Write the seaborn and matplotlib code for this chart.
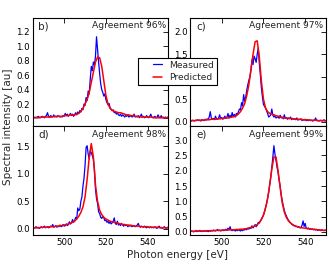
import numpy as np
import pandas as pd
import matplotlib
matplotlib.use("Agg")
import matplotlib.pyplot as plt
import seaborn as sns
from matplotlib.ticker import MultipleLocator
from matplotlib.lines import Line2D
from matplotlib.legend_handler import HandlerLine2D

# energy grids [eV]
energy_meas = np.arange(485.0, 550.01, 0.5)
energy_pred = np.arange(485.0, 550.01, 1.0)

# panel b)
b_meas = [0.01, 0.02, 0.01, 0.02, 0.01, 0.03, 0.02, 0.01, 0.02, 0.03,
          0.02, 0.01, 0.03, 0.04, 0.08, 0.03, 0.02, 0.04, 0.03, 0.02,
          0.05, 0.02, 0.03, 0.02, 0.04, 0.03, 0.02, 0.03, 0.02, 0.04,
          0.03, 0.07, 0.04, 0.06, 0.03, 0.05, 0.07, 0.04, 0.06, 0.03,
          0.05, 0.08, 0.05, 0.09, 0.07, 0.11, 0.09, 0.14, 0.12, 0.20,
          0.18, 0.29, 0.25, 0.38, 0.34, 0.55, 0.72, 0.66, 0.78, 0.74,
          0.86, 1.13, 0.95, 0.78, 0.62, 0.48, 0.40, 0.36, 0.31, 0.34,
          0.26, 0.22, 0.19, 0.21, 0.15, 0.13, 0.11, 0.12, 0.08, 0.09,
          0.06, 0.08, 0.05, 0.04, 0.06, 0.03, 0.05, 0.04, 0.02, 0.04,
          0.03, 0.05, 0.02, 0.03, 0.04, 0.02, 0.03, 0.06, 0.02, 0.03,
          0.02, 0.04, 0.01, 0.03, 0.06, 0.02, 0.03, 0.01, 0.02, 0.04,
          0.02, 0.01, 0.03, 0.06, 0.02, 0.01, 0.02, 0.03, 0.01, 0.02,
          0.05, 0.02, 0.01, 0.04, 0.01, 0.02, 0.01, 0.02, 0.01, 0.02,
          0.01]
b_pred = [0.01, 0.01, 0.01, 0.01, 0.02, 0.02, 0.02, 0.02, 0.02, 0.02,
          0.03, 0.03, 0.03, 0.03, 0.03, 0.04, 0.04, 0.04, 0.05, 0.05,
          0.05, 0.06, 0.07, 0.10, 0.14, 0.20, 0.26, 0.36, 0.50, 0.64,
          0.78, 0.85, 0.84, 0.72, 0.52, 0.32, 0.20, 0.14, 0.11, 0.10,
          0.09, 0.08, 0.08, 0.07, 0.06, 0.05, 0.05, 0.04, 0.04, 0.03,
          0.03, 0.03, 0.02, 0.02, 0.02, 0.02, 0.02, 0.02, 0.01, 0.01,
          0.01, 0.01, 0.01, 0.01, 0.01, 0.01]

# panel c)
c_meas = [0.02, 0.01, 0.03, 0.02, 0.01, 0.03, 0.02, 0.04, 0.02, 0.03,
          0.01, 0.04, 0.03, 0.02, 0.05, 0.03, 0.06, 0.04, 0.10, 0.22,
          0.08, 0.05, 0.07, 0.04, 0.12, 0.06, 0.05, 0.08, 0.15, 0.06,
          0.09, 0.05, 0.08, 0.12, 0.07, 0.10, 0.18, 0.08, 0.14, 0.09,
          0.20, 0.11, 0.16, 0.10, 0.18, 0.15, 0.22, 0.28, 0.26, 0.42,
          0.35, 0.60, 0.45, 0.55, 0.70, 0.82, 0.92, 1.00, 1.15, 1.38,
          1.27, 1.46, 1.40, 1.32, 1.50, 1.64, 1.30, 1.05, 0.75, 0.55,
          0.38, 0.34, 0.30, 0.24, 0.18, 0.10, 0.12, 0.15, 0.28, 0.14,
          0.10, 0.12, 0.08, 0.09, 0.11, 0.07, 0.14, 0.08, 0.10, 0.06,
          0.15, 0.07, 0.09, 0.05, 0.08, 0.06, 0.10, 0.04, 0.07, 0.05,
          0.06, 0.04, 0.08, 0.03, 0.05, 0.04, 0.06, 0.02, 0.04, 0.03,
          0.05, 0.02, 0.03, 0.02, 0.04, 0.02, 0.03, 0.01, 0.02, 0.03,
          0.08, 0.02, 0.03, 0.01, 0.02, 0.03, 0.01, 0.02, 0.04, 0.01,
          0.02]
c_pred = [0.02, 0.02, 0.02, 0.03, 0.03, 0.03, 0.03, 0.04, 0.04, 0.04,
          0.05, 0.05, 0.05, 0.06, 0.06, 0.07, 0.07, 0.08, 0.08, 0.09,
          0.10, 0.11, 0.13, 0.17, 0.22, 0.30, 0.40, 0.58, 0.82, 1.15,
          1.50, 1.78, 1.80, 1.45, 0.90, 0.50, 0.30, 0.22, 0.18, 0.16,
          0.15, 0.13, 0.12, 0.10, 0.09, 0.08, 0.08, 0.07, 0.07, 0.06,
          0.06, 0.05, 0.05, 0.05, 0.04, 0.04, 0.04, 0.03, 0.03, 0.03,
          0.03, 0.02, 0.02, 0.02, 0.02, 0.02]

# panel d)
d_meas = [0.03, 0.01, 0.02, 0.04, 0.02, 0.03, 0.01, 0.02, 0.04, 0.02,
          0.03, 0.05, 0.02, 0.03, 0.04, 0.02, 0.03, 0.05, 0.04, 0.08,
          0.03, 0.04, 0.06, 0.03, 0.05, 0.04, 0.07, 0.04, 0.05, 0.08,
          0.05, 0.06, 0.09, 0.06, 0.08, 0.13, 0.09, 0.11, 0.17, 0.12,
          0.15, 0.21, 0.18, 0.38, 0.33, 0.36, 0.50, 0.58, 0.78, 0.92,
          1.15, 1.48, 1.51, 1.36, 1.27, 1.42, 1.38, 1.33, 1.26, 1.08,
          0.72, 0.55, 0.46, 0.31, 0.28, 0.21, 0.19, 0.23, 0.20, 0.15,
          0.16, 0.12, 0.14, 0.10, 0.13, 0.09, 0.11, 0.14, 0.20, 0.10,
          0.08, 0.14, 0.07, 0.09, 0.06, 0.10, 0.07, 0.05, 0.08, 0.06,
          0.07, 0.04, 0.06, 0.05, 0.07, 0.04, 0.05, 0.06, 0.04, 0.05,
          0.07, 0.10, 0.05, 0.03, 0.05, 0.04, 0.03, 0.05, 0.03, 0.02,
          0.04, 0.03, 0.02, 0.04, 0.02, 0.03, 0.02, 0.04, 0.02, 0.01,
          0.03, 0.05, 0.02, 0.03, 0.01, 0.02, 0.04, 0.02, 0.01, 0.03,
          0.02]
d_pred = [0.02, 0.02, 0.02, 0.02, 0.03, 0.03, 0.03, 0.03, 0.04, 0.04,
          0.04, 0.05, 0.05, 0.06, 0.06, 0.07, 0.08, 0.09, 0.10, 0.12,
          0.14, 0.18, 0.23, 0.30, 0.40, 0.58, 0.90, 1.30, 1.55, 1.30,
          0.80, 0.50, 0.34, 0.26, 0.21, 0.18, 0.16, 0.14, 0.13, 0.12,
          0.11, 0.10, 0.09, 0.08, 0.08, 0.07, 0.07, 0.06, 0.06, 0.05,
          0.05, 0.05, 0.04, 0.04, 0.04, 0.04, 0.03, 0.03, 0.03, 0.03,
          0.03, 0.02, 0.02, 0.02, 0.02, 0.02]

# panel e)
e_meas = [0.01, 0.03, 0.02, 0.00, 0.02, 0.04, 0.01, 0.03, 0.02, 0.05,
          0.02, 0.01, 0.03, 0.02, 0.04, 0.02, 0.03, 0.01, 0.04, 0.02,
          0.05, 0.03, 0.06, 0.04, 0.03, 0.05, 0.08, 0.04, 0.06, 0.03,
          0.05, 0.07, 0.04, 0.06, 0.09, 0.05, 0.12, 0.08, 0.17, 0.06,
          0.04, 0.07, 0.05, 0.03, 0.06, 0.04, 0.07, 0.05, 0.03, 0.06,
          0.04, 0.08, 0.06, 0.10, 0.07, 0.12, 0.09, 0.14, 0.11, 0.20,
          0.13, 0.18, 0.24, 0.17, 0.22, 0.31, 0.29, 0.36, 0.42, 0.48,
          0.55, 0.66, 0.80, 0.92, 1.10, 1.28, 1.55, 1.78, 2.10, 2.45,
          2.82, 2.55, 2.35, 2.12, 1.95, 1.70, 1.50, 1.22, 1.02, 0.86,
          0.70, 0.60, 0.52, 0.44, 0.38, 0.33, 0.30, 0.25, 0.23, 0.20,
          0.21, 0.17, 0.18, 0.15, 0.16, 0.13, 0.14, 0.22, 0.36, 0.18,
          0.28, 0.12, 0.10, 0.13, 0.09, 0.11, 0.08, 0.10, 0.07, 0.09,
          0.06, 0.08, 0.05, 0.07, 0.06, 0.04, 0.07, 0.05, 0.04, 0.06,
          0.05]
e_pred = [0.02, 0.02, 0.02, 0.03, 0.03, 0.03, 0.03, 0.03, 0.04, 0.04,
          0.04, 0.04, 0.05, 0.05, 0.05, 0.05, 0.06, 0.06, 0.06, 0.07,
          0.07, 0.07, 0.08, 0.08, 0.09, 0.09, 0.10, 0.11, 0.13, 0.15,
          0.17, 0.20, 0.24, 0.30, 0.40, 0.55, 0.78, 1.10, 1.55, 2.05,
          2.45, 2.45, 2.00, 1.45, 0.95, 0.65, 0.47, 0.36, 0.29, 0.24,
          0.20, 0.18, 0.16, 0.14, 0.13, 0.12, 0.11, 0.10, 0.09, 0.08,
          0.08, 0.07, 0.06, 0.06, 0.05, 0.05]

panel_labels = ["b)", "c)", "d)", "e)"]
agreements = ["Agreement 96%", "Agreement 97%", "Agreement 98%", "Agreement 99%"]
y_limits = [(-0.11, 1.39), (-0.11, 2.31), (-0.11, 1.86), (-0.1, 3.45)]
y_steps = [0.2, 0.5, 0.5, 0.5]

sns.set_style("white")
plt.rcParams.update({
    "font.family": ["DejaVu Sans"],
    "xtick.direction": "in",
    "ytick.direction": "in",
    "xtick.top": True,
    "ytick.right": True,
    "xtick.major.size": 3.5,
    "ytick.major.size": 3.5,
    "xtick.major.width": 0.6,
    "ytick.major.width": 0.6,
    "xtick.labelsize": 6.2,
    "ytick.labelsize": 6.2,
    "axes.edgecolor": "black",
    "axes.linewidth": 0.8,
})

fig, axes = plt.subplots(2, 2, figsize=(3.29, 2.64), dpi=100, sharex=True)
fig.subplots_adjust(left=0.100, right=0.991, top=0.932, bottom=0.110,
                    wspace=0.162, hspace=0.0)

meas_all = [b_meas, c_meas, d_meas, e_meas]
pred_all = [b_pred, c_pred, d_pred, e_pred]

for i, ax in enumerate(axes.flat):
    df_m = pd.DataFrame({"energy": energy_meas, "intensity": meas_all[i]})
    df_p = pd.DataFrame({"energy": energy_pred, "intensity": pred_all[i]})
    sns.lineplot(data=df_m, x="energy", y="intensity", ax=ax,
                 color="#0000ff", linewidth=0.9)
    sns.lineplot(data=df_p, x="energy", y="intensity", ax=ax,
                 color="#ff0000", linewidth=1.1)
    ax.set_xlim(485, 550)
    ax.set_ylim(*y_limits[i])
    ax.set_xticks([500, 520, 540])
    ax.yaxis.set_major_locator(MultipleLocator(y_steps[i]))
    ax.set_xlabel("")
    ax.set_ylabel("")
    ax.tick_params(axis="both", which="both", pad=2, direction="in",
                   top=True, right=True, colors="black")
    ax.text(0.04, 0.97, panel_labels[i], transform=ax.transAxes,
            ha="left", va="top", fontsize=7.5)
    ax.text(0.98, 0.97, agreements[i], transform=ax.transAxes,
            ha="right", va="top", fontsize=6.6)
    for s in ax.spines.values():
        s.set_visible(True)
        s.set_color("black")

for ax in axes[0]:
    ax.tick_params(labelbottom=False)

# legend sits between the panels, short handles on the right of the handle box
handles = [Line2D([], [], color="#0000ff", linewidth=0.9),
           Line2D([], [], color="#ff0000", linewidth=1.1)]
leg = fig.legend(handles, ["Measured", "Predicted"], loc="center",
                 bbox_to_anchor=(0.540, 0.730), fontsize=6.6, frameon=True,
                 fancybox=False, edgecolor="black", framealpha=1,
                 handlelength=2.3, handletextpad=0.8, borderpad=0.3,
                 labelspacing=0.35,
                 handler_map={Line2D: HandlerLine2D(xpad=1.3)})
leg.get_frame().set_linewidth(0.8)

fig.text(0.025, 0.52, "Spectral intensity [au]", rotation=90,
         ha="center", va="center", fontsize=7.5)
fig.text(0.54, 0.035, "Photon energy [eV]", ha="center", va="center",
         fontsize=7.5)

fig.savefig("out.png", dpi=100)
